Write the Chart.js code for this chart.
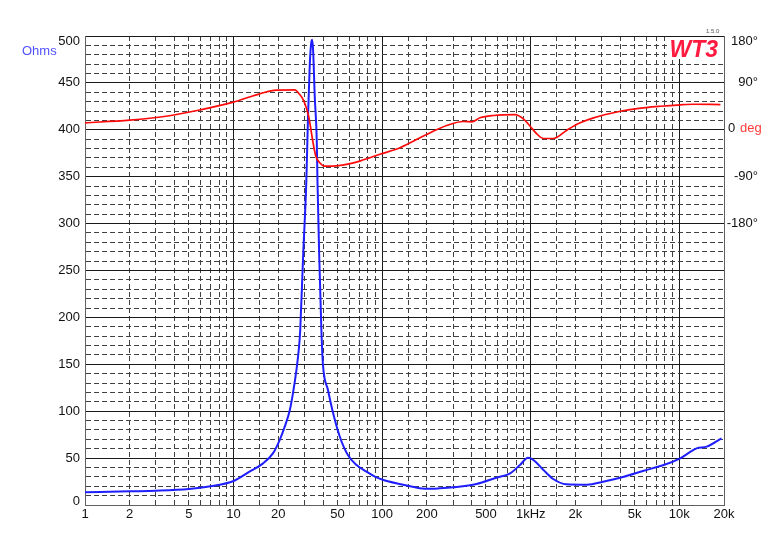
<!DOCTYPE html>
<html><head><meta charset="utf-8">
<script src="https://cdn.jsdelivr.net/npm/chart.js@4/dist/chart.umd.min.js"></script>
<style>html,body{margin:0;padding:0;background:#fff;}#wrap{width:776px;height:537px;}</style>
</head><body><div id="wrap"><canvas id="c" width="776" height="537"></canvas></div>
<script>
// Impedance magnitude (Ohms) vs frequency (Hz)
const impFreq = [1, 2, 3, 5, 7, 10, 12.8, 15.8, 18.4, 20.4, 22.1, 23.9, 25.1, 26.5, 27.6, 28.1, 29.4, 30.9, 31.7, 32.6, 33.4, 33.8, 34.3, 35.2, 36.3, 36.7, 37.7, 39.0, 39.9, 43.2, 46.8, 51.9, 58.8, 67.3, 78.5, 90, 102, 131, 160, 200, 244, 301, 432, 585, 727, 846, 959, 1043, 1219, 1417, 1740, 2396, 3068, 4238, 5768, 7851, 10140, 13087, 15273, 19245];
const impOhms = [13.5, 14.6, 15.2, 17, 20, 25.6, 35.5, 44.4, 55, 69, 83.5, 101, 119, 144, 169, 186.6, 266, 346, 414, 471, 494, 496, 485, 435, 389, 346, 266, 186.6, 151, 122.6, 97.8, 72.8, 53.3, 42.6, 35.5, 30, 26.7, 22.4, 19.5, 17.2, 17.8, 18.9, 22.4, 29.1, 33.8, 42.6, 50.4, 48, 37.3, 27.7, 22.1, 21.6, 24.8, 30.2, 36.6, 42.6, 49.8, 60.4, 62.2, 71.1];
// Phase (degrees) vs frequency (Hz)
const phaseFreq = [1, 2, 3.5, 5.9, 10, 12.8, 15, 19.4, 25.8, 27.9, 29.4, 30.9, 32, 32.9, 33.7, 34.6, 35.8, 38, 41, 46.6, 57.5, 70.8, 82.6, 96.6, 131.8, 199, 272, 352, 401, 456, 560, 785, 893, 991, 1099, 1218, 1423, 1751, 2153, 2648, 4010, 5193, 7452, 10170, 12500, 18920];
const phaseDeg = [13.4, 18.5, 26, 38, 53, 63, 69, 76, 76.5, 67.6, 58, 42, 26, 6.9, -12.3, -31.4, -50.6, -63.2, -69.7, -69.7, -66.5, -60, -53.6, -47, -34.5, -9, 8.2, 15.9, 15.3, 23, 27.4, 29.3, 21, 6.9, -7.7, -16.7, -16.7, -0.7, 13.4, 23, 35.6, 40.8, 45.2, 47.9, 49, 48.5];
// Tick labels
const ohmLabels = [0, 50, 100, 150, 200, 250, 300, 350, 400, 450, 500];
const freqLabelValues = [1, 2, 5, 10, 20, 50, 100, 200, 500, 1000, 2000, 5000, 10000, 20000];
const freqLabelText = ['1', '2', '5', '10', '20', '50', '100', '200', '500', '1kHz', '2k', '5k', '10k', '20k'];
const degTicks = [180, 90, 0, -90, -180];
const degLabelText = ['180°', '90°', '0', '-90°', '-180°'];

const FONT = '"Liberation Sans", Arial, sans-serif';
const MAJOR = '#1a1a1a', MINOR = '#404040', BORDER = '#606060', TXT = '#111';

function isDecade(v){ const l = Math.log10(v); return Math.abs(l - Math.round(l)) < 1e-9; }

const extras = {
  id: 'extras',
  beforeDraw(chart){
    const c = chart.ctx; c.save(); c.fillStyle = '#fff'; c.fillRect(0,0,chart.width,chart.height); c.restore();
  },
  afterDraw(chart){
    const c = chart.ctx; const y = chart.scales.y, y2 = chart.scales.y2;
    c.save();
    c.font = '13px ' + FONT; c.textBaseline = 'middle';
    // edge labels of the Ohms axis, nudged inside the frame as in the original
    c.fillStyle = TXT; c.textAlign = 'right';
    c.fillText(String(ohmLabels[ohmLabels.length-1]), y.right - 5, y.getPixelForValue(ohmLabels[ohmLabels.length-1]) + 5);
    c.fillText(String(ohmLabels[0]), y.right - 5, y.getPixelForValue(ohmLabels[0]) - 4);
    c.fillText(degLabelText[0], y2.right, y2.getPixelForValue(degTicks[0]) + 5);
    // Ohms unit label
    c.fillStyle = '#5050ff'; c.textAlign = 'left';
    c.fillText('Ohms', 22, 51);
    // 0 deg label
    const y0 = y2.getPixelForValue(0) - 1.5;
    c.fillStyle = TXT; c.fillText('0', 728, y0);
    c.fillStyle = '#ff3a3a'; c.fillText('deg', 740, y0);
    // WT3 logo
    c.fillStyle = '#fff'; c.fillRect(668, 37, 55, 22);
    c.font = 'italic bold 23px ' + FONT; c.fillStyle = '#ff1a40'; c.textAlign = 'right'; c.textBaseline = 'alphabetic';
    c.fillText('WT3', 718, 57);
    c.font = '6px ' + FONT; c.fillStyle = '#555'; c.textAlign = 'left';
    c.fillText('1.5.0', 706, 33);
    c.restore();
  }
};

new Chart(document.getElementById('c'), {
  type: 'line',
  data: {
    datasets: [
      { label: 'Phase', data: phaseFreq.map((f,i)=>({x:f, y:phaseDeg[i]})), yAxisID: 'y2',
        borderColor: '#ff0a0a', borderWidth: 1.7, pointRadius: 0, cubicInterpolationMode: 'monotone', fill: false },
      { label: 'Impedance', data: impFreq.map((f,i)=>({x:f, y:impOhms[i]})), yAxisID: 'y',
        borderColor: '#1e1eff', borderWidth: 2, pointRadius: 0, cubicInterpolationMode: 'monotone', fill: false }
    ]
  },
  options: {
    responsive: false, animation: false, devicePixelRatio: 1,
    layout: { padding: { top: 36, left: 0, right: 18, bottom: 0 } },
    plugins: { legend: { display: false }, tooltip: { enabled: false } },
    scales: {
      x: {
        type: 'logarithmic', min: 1, max: 20000,
        afterFit(s){ s.height = 32; },
        afterBuildTicks(s){ s.ticks = s.ticks.filter(t => t.value <= 10000 || t.value === 20000); },
        ticks: { autoSkip: false, maxRotation: 0, padding: 2, color: TXT, font: { family: FONT, size: 13 },
          callback(v){ const i = freqLabelValues.indexOf(Number(v)); return i >= 0 ? freqLabelText[i] : ''; } },
        grid: { drawTicks: false, lineWidth: 1,
          color(ctx){ const v = ctx.tick ? ctx.tick.value : 1; return (isDecade(v) || v === 20000) ? MAJOR : MINOR; } },
        border: { display: true, color: BORDER, width: 1,
          dash(ctx){ const v = ctx.tick ? ctx.tick.value : 1; return (isDecade(v) || v === 20000) ? [] : [5,3]; } }
      },
      y: {
        type: 'linear', position: 'left', min: 0, max: 500,
        afterFit(s){ s.width = 85; },
        ticks: { stepSize: 10, autoSkip: false, maxTicksLimit: 100, padding: 5, color: TXT, font: { family: FONT, size: 13 },
          callback(v){ const n = Number(v); return (ohmLabels.includes(n) && n !== ohmLabels[0] && n !== ohmLabels[ohmLabels.length-1]) ? String(v) : ''; } },
        grid: { drawTicks: false, lineWidth: 1,
          color(ctx){ const v = ctx.tick ? ctx.tick.value : 0; return v % 50 === 0 ? MAJOR : MINOR; } },
        border: { display: true, color: BORDER, width: 1,
          dash(ctx){ const v = ctx.tick ? ctx.tick.value : 0; return v % 50 === 0 ? [] : [5,3]; } }
      },
      y2: {
        type: 'linear', position: 'right', min: -720, max: 180,
        afterFit(s){ s.width = 34; },
        afterBuildTicks(s){ s.ticks = degTicks.map(v => ({ value: v })); },
        ticks: { autoSkip: false, padding: 3, crossAlign: 'far', color: TXT, font: { family: FONT, size: 13 },
          callback(v){ const i = degTicks.indexOf(Number(v)); return (i > 0 && v !== 0) ? degLabelText[i] : ''; } },
        grid: { display: false, drawOnChartArea: false, drawTicks: false },
        border: { display: true, color: BORDER, width: 1 }
      }
    }
  },
  plugins: [extras]
});
</script>
</body></html>
